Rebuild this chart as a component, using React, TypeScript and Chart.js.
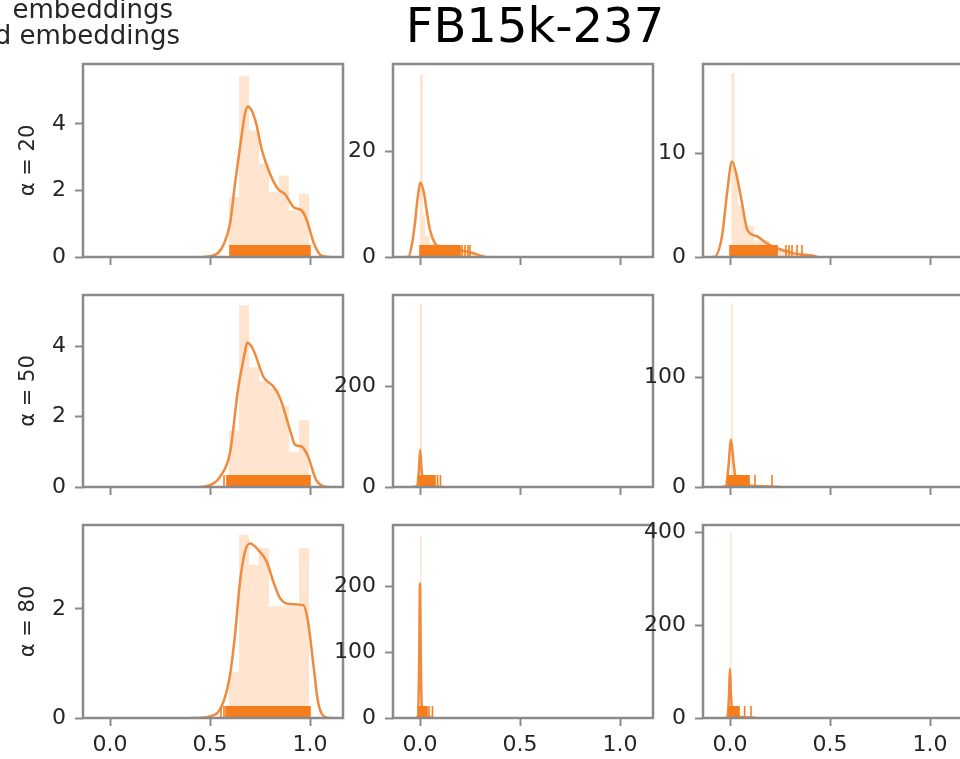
import React, { useEffect, useRef } from "react";
import { Chart, registerables } from "chart.js";

Chart.register(...registerables);

// ---------------- data ----------------
const figureTitle = "FB15k-237";
const legendLines = ["embeddings", "d embeddings"];
const rowLabels = ["α = 20", "α = 50", "α = 80"];
const xTickValues = [0, 0.5, 1.0];
const xTickLabels = ["0.0", "0.5", "1.0"];
const xMinMax = [-0.135, 1.165];

const yMaxRow1 = [5.8, 36.6, 18.6];
const yMaxRow2 = [5.45, 382, 175];
const yMaxRow3 = [3.54, 293, 416];
const yTicksRow1 = [[0, 2, 4], [0, 20], [0, 10]];
const yTicksRow2 = [[0, 2, 4], [0, 200], [0, 100]];
const yTicksRow3 = [[0, 2], [0, 100, 200], [0, 200, 400]];

// histogram bin edges & heights
const col1Edges = [0.595, 0.645, 0.695, 0.745, 0.795, 0.845, 0.895, 0.945, 0.995];
const r1c1Hist = [1.8, 5.45, 3.8, 2.8, 1.95, 2.45, 1.4, 1.9];
const r2c1Hist = [1.6, 5.16, 3.4, 3.0, 2.8, 2.3, 1.0, 1.9];
const r3c1Hist = [0.85, 3.36, 2.81, 3.12, 2.05, 2.05, 2.05, 3.12];
const r1c2Edges = [0, 0.0135, 0.027, 0.05, 0.1, 0.2, 0.25, 0.3];
const r1c2Hist = [34.6, 8, 4, 2.5, 1.6, 1.0, 0.5];
const r1c3Edges = [0.006, 0.022, 0.04, 0.07, 0.12, 0.2, 0.3, 0.42];
const r1c3Hist = [17.7, 8, 5, 3, 1.6, 0.8, 0.3];
const r2c2Edges = [0, 0.01, 0.05, 0.1];
const r2c2Hist = [364, 10, 2];
const r2c3Edges = [0.004, 0.014, 0.05, 0.12, 0.24];
const r2c3Hist = [167, 8, 3, 1];
const r3c2Edges = [0, 0.008, 0.06];
const r3c2Hist = [278, 5];
const r3c3Edges = [0, 0.008, 0.05, 0.12];
const r3c3Hist = [400, 8, 2];

// KDE curves
const r1c1KdeX = [0.46, 0.5, 0.54, 0.57, 0.6, 0.625, 0.65, 0.675, 0.69, 0.725, 0.76, 0.8, 0.84, 0.875, 0.92, 0.96, 0.985, 1.02, 1.06, 1.1];
const r1c1KdeY = [0, 0.02, 0.12, 0.4, 1.0, 2.2, 3.3, 4.3, 4.52, 4.14, 3.2, 2.5, 2.04, 1.89, 1.49, 1.39, 1.09, 0.4, 0.03, 0];
const r2c1KdeX = [0.45, 0.5, 0.55, 0.6, 0.64, 0.675, 0.686, 0.717, 0.767, 0.817, 0.85, 0.9, 0.925, 0.958, 0.99, 1.03, 1.075, 1.1];
const r2c1KdeY = [0, 0.05, 0.29, 0.97, 2.76, 3.84, 4.1, 3.89, 3.13, 2.85, 2.53, 1.62, 1.2, 1.15, 0.87, 0.21, 0.01, 0];
const r3c1KdeX = [0.4, 0.45, 0.5, 0.558, 0.6, 0.625, 0.65, 0.675, 0.7, 0.742, 0.783, 0.817, 0.85, 0.9, 0.967, 0.99, 1.017, 1.04, 1.08, 1.1];
const r3c1KdeY = [0, 0.005, 0.03, 0.21, 0.79, 1.52, 2.5, 3.05, 3.2, 3.08, 2.87, 2.5, 2.2, 2.09, 2.07, 1.77, 0.98, 0.3, 0.01, 0];
const r1c2KdeX = [-0.07, -0.058, -0.04, -0.025, -0.013, 0.003, 0.02, 0.033, 0.05, 0.075, 0.1, 0.133, 0.2, 0.267, 0.308, 0.33];
const r1c2KdeY = [0, 0, 2.5, 6.5, 10.8, 14.1, 12.1, 8.9, 5.1, 2.6, 1.9, 1.65, 1.3, 0.7, 0.2, 0];
const r1c3KdeX = [-0.09, -0.08, -0.04, -0.015, 0.01, 0.035, 0.06, 0.087, 0.135, 0.185, 0.235, 0.32, 0.42, 0.44];
const r1c3KdeY = [0, 0, 2, 6.1, 9.2, 7.7, 5.2, 2.6, 2.0, 1.3, 0.84, 0.35, 0.1, 0];
const r2c2KdeX = [-0.04, -0.015, -0.006, 0.001, 0.008, 0.016, 0.03, 0.06, 0.1, 0.12];
const r2c2KdeY = [0, 2, 30, 74, 35, 8, 2, 0.8, 0.2, 0];
const r2c3KdeX = [-0.04, -0.02, -0.008, 0.005, 0.018, 0.03, 0.05, 0.1, 0.2, 0.25];
const r2c3KdeY = [0, 1, 18, 43, 22, 6, 2.5, 1.2, 0.4, 0];
const r3c2KdeX = [-0.02, -0.01, -0.004, 0.0, 0.004, 0.01, 0.02, 0.05, 0.07];
const r3c2KdeY = [0, 3, 90, 204, 90, 12, 4, 1, 0];
const r3c3KdeX = [-0.025, -0.012, -0.005, 0.0, 0.005, 0.012, 0.025, 0.06, 0.12, 0.14];
const r3c3KdeY = [0, 3, 50, 106, 50, 12, 5, 2, 0.5, 0];

// rug: dense bands [from, to] and isolated ticks
const r1c1RugBands = [[0.6, 1.0]];
const r1c1RugTicks: number[] = [];
const r2c1RugBands = [[0.585, 1.0]];
const r2c1RugTicks = [0.57];
const r3c1RugBands = [[0.58, 1.0]];
const r3c1RugTicks = [0.555, 0.57];
const r1c2RugBands = [[0, 0.2]];
const r1c2RugTicks = [0.21, 0.225, 0.24, 0.25];
const r1c3RugBands = [[0, 0.235]];
const r1c3RugTicks = [0.28, 0.295, 0.31, 0.335, 0.36];
const r2c2RugBands = [[-0.005, 0.075]];
const r2c2RugTicks = [0.088, 0.102];
const r2c3RugBands = [[-0.01, 0.095]];
const r2c3RugTicks = [0.125, 0.21];
const r3c2RugBands = [[-0.005, 0.035]];
const r3c2RugTicks = [0.045, 0.062];
const r3c3RugBands = [[-0.005, 0.045]];
const r3c3RugTicks = [0.073, 0.105];

// ---------------- layout / style ----------------
const CANVAS_W = 980;
const CANVAS_H = 759;
const colLefts = [83, 393, 703];
const panelW = 260;
const rowTops = [64, 295, 525];
const rowBottoms = [257, 487, 718];
const XH = 40;
const FONT = '"DejaVu Sans", "Liberation Sans", sans-serif';
const TEXT = "#262626";
const SPINE = "#8a8a8a";
const KDE_COLOR = "#f08a3c";
const RUG_COLOR = "#f57d1c";
const HIST_FILL = "rgba(255,127,14,0.2)";
const RUG_H = 12;

type Panel = {
  row: number; col: number; edges: number[]; hist: number[];
  kdeX: number[]; kdeY: number[]; rugBands: number[][]; rugTicks: number[];
  yMax: number; yTicks: number[];
};

const yMaxes = [yMaxRow1, yMaxRow2, yMaxRow3];
const yTickSets = [yTicksRow1, yTicksRow2, yTicksRow3];

const panels: Panel[] = [
  { row: 0, col: 0, edges: col1Edges, hist: r1c1Hist, kdeX: r1c1KdeX, kdeY: r1c1KdeY, rugBands: r1c1RugBands, rugTicks: r1c1RugTicks, yMax: 0, yTicks: [] },
  { row: 0, col: 1, edges: r1c2Edges, hist: r1c2Hist, kdeX: r1c2KdeX, kdeY: r1c2KdeY, rugBands: r1c2RugBands, rugTicks: r1c2RugTicks, yMax: 0, yTicks: [] },
  { row: 0, col: 2, edges: r1c3Edges, hist: r1c3Hist, kdeX: r1c3KdeX, kdeY: r1c3KdeY, rugBands: r1c3RugBands, rugTicks: r1c3RugTicks, yMax: 0, yTicks: [] },
  { row: 1, col: 0, edges: col1Edges, hist: r2c1Hist, kdeX: r2c1KdeX, kdeY: r2c1KdeY, rugBands: r2c1RugBands, rugTicks: r2c1RugTicks, yMax: 0, yTicks: [] },
  { row: 1, col: 1, edges: r2c2Edges, hist: r2c2Hist, kdeX: r2c2KdeX, kdeY: r2c2KdeY, rugBands: r2c2RugBands, rugTicks: r2c2RugTicks, yMax: 0, yTicks: [] },
  { row: 1, col: 2, edges: r2c3Edges, hist: r2c3Hist, kdeX: r2c3KdeX, kdeY: r2c3KdeY, rugBands: r2c3RugBands, rugTicks: r2c3RugTicks, yMax: 0, yTicks: [] },
  { row: 2, col: 0, edges: col1Edges, hist: r3c1Hist, kdeX: r3c1KdeX, kdeY: r3c1KdeY, rugBands: r3c1RugBands, rugTicks: r3c1RugTicks, yMax: 0, yTicks: [] },
  { row: 2, col: 1, edges: r3c2Edges, hist: r3c2Hist, kdeX: r3c2KdeX, kdeY: r3c2KdeY, rugBands: r3c2RugBands, rugTicks: r3c2RugTicks, yMax: 0, yTicks: [] },
  { row: 2, col: 2, edges: r3c3Edges, hist: r3c3Hist, kdeX: r3c3KdeX, kdeY: r3c3KdeY, rugBands: r3c3RugBands, rugTicks: r3c3RugTicks, yMax: 0, yTicks: [] },
].map((p) => ({ ...p, yMax: yMaxes[p.row][p.col], yTicks: yTickSets[p.row][p.col] }));

function makeRugPlugin(bands: number[][], ticks: number[]) {
  return {
    id: "rug",
    afterDatasetsDraw(chart: any) {
      const { ctx, chartArea, scales } = chart;
      const xs = scales.x;
      ctx.save();
      ctx.beginPath();
      ctx.rect(chartArea.left, chartArea.top, chartArea.right - chartArea.left, chartArea.bottom - chartArea.top);
      ctx.clip();
      ctx.fillStyle = RUG_COLOR;
      ctx.strokeStyle = RUG_COLOR;
      ctx.lineWidth = 1.6;
      const y1 = chartArea.bottom;
      const y0 = y1 - RUG_H;
      bands.forEach(([a, b]) => {
        const pa = xs.getPixelForValue(a);
        const pb = xs.getPixelForValue(b);
        ctx.fillRect(pa - 0.8, y0, pb - pa + 1.6, RUG_H);
      });
      ticks.forEach((t) => {
        const p = xs.getPixelForValue(t);
        ctx.beginPath();
        ctx.moveTo(p, y0);
        ctx.lineTo(p, y1);
        ctx.stroke();
      });
      ctx.restore();
    },
  };
}

const framePlugin = {
  id: "frame",
  afterDraw(chart: any) {
    const { ctx, chartArea } = chart;
    ctx.save();
    ctx.strokeStyle = SPINE;
    ctx.lineWidth = 2.5;
    ctx.strokeRect(chartArea.left, chartArea.top, chartArea.right - chartArea.left, chartArea.bottom - chartArea.top);
    ctx.restore();
  },
};

const figureTextPlugin = {
  id: "figureText",
  afterDraw(chart: any) {
    const { ctx } = chart;
    ctx.save();
    ctx.fillStyle = "#000000";
    ctx.font = `48px ${FONT}`;
    ctx.textAlign = "center";
    ctx.textBaseline = "alphabetic";
    ctx.fillText(figureTitle, 535, 42);
    ctx.fillStyle = TEXT;
    ctx.font = `26px ${FONT}`;
    ctx.textAlign = "right";
    ctx.fillText(legendLines[0], 173, 18);
    ctx.fillText(legendLines[1], 180, 43.5);
    ctx.restore();
  },
};

function buildConfig(p: Panel, withText: boolean): any {
  const left = colLefts[p.col];
  const right = left + panelW;
  const top = rowTops[p.row];
  const bottom = rowBottoms[p.row];
  const yw = p.col === 0 ? 83 : 60;
  const histPts = p.edges.map((e, i) => ({ x: e, y: i < p.hist.length ? p.hist[i] : 0 }));
  const kdePts = p.kdeX.map((x, i) => ({ x, y: p.kdeY[i] }));
  const tickFont = { family: FONT, size: 22 };
  const plugins: any[] = [makeRugPlugin(p.rugBands, p.rugTicks), framePlugin];
  if (withText) plugins.push(figureTextPlugin);
  return {
    type: "line",
    data: {
      datasets: [
        {
          label: "hist",
          data: histPts,
          stepped: true,
          fill: "origin",
          backgroundColor: HIST_FILL,
          borderColor: "rgba(0,0,0,0)",
          borderWidth: 1,
          pointRadius: 0,
          order: 3,
        },
        {
          label: "kde",
          data: kdePts,
          borderColor: KDE_COLOR,
          borderWidth: 2.5,
          pointRadius: 0,
          fill: false,
          cubicInterpolationMode: "monotone",
          order: 2,
        },
      ],
    },
    options: {
      responsive: false,
      animation: false,
      events: [],
      layout: {
        padding: { left: left - yw, top, right: CANVAS_W - right, bottom: CANVAS_H - bottom - XH },
      },
      plugins: { legend: { display: false }, tooltip: { enabled: false }, title: { display: false } },
      scales: {
        x: {
          type: "linear",
          min: xMinMax[0],
          max: xMinMax[1],
          afterBuildTicks: (s: any) => { s.ticks = xTickValues.map((v) => ({ value: v })); },
          afterFit: (s: any) => { s.height = XH; },
          border: { display: false },
          grid: { display: true, drawOnChartArea: false, drawTicks: true, tickLength: 8, tickWidth: 2, tickColor: SPINE, color: SPINE },
          ticks: {
            display: p.row === 2,
            callback: (_v: any, i: number) => xTickLabels[i],
            font: tickFont,
            color: TEXT,
            padding: 6,
            maxRotation: 0,
            autoSkip: false,
          },
        },
        y: {
          type: "linear",
          min: 0,
          max: p.yMax,
          afterBuildTicks: (s: any) => { s.ticks = p.yTicks.map((v) => ({ value: v })); },
          afterFit: (s: any) => { s.width = yw; },
          border: { display: false },
          grid: { display: true, drawOnChartArea: false, drawTicks: true, tickLength: 8, tickWidth: 2, tickColor: SPINE, color: SPINE },
          ticks: {
            callback: (v: any) => String(v),
            font: tickFont,
            color: TEXT,
            padding: 9,
            autoSkip: false,
          },
          title: {
            display: p.col === 0,
            text: rowLabels[p.row],
            font: { family: FONT, size: 21 },
            color: TEXT,
            padding: { top: 16, bottom: 0 },
          },
        },
      },
    },
    plugins,
  };
}

export default function App() {
  const refs = useRef<(HTMLCanvasElement | null)[]>([]);
  useEffect(() => {
    const charts = panels.map((p, i) => {
      const canvas = refs.current[i]!;
      return new Chart(canvas, buildConfig(p, i === 0));
    });
    return () => charts.forEach((c) => c.destroy());
  }, []);
  return (
    <div style={{ position: "absolute", left: 0, top: 0, width: 960, height: 759, overflow: "hidden", background: "#fff" }}>
      {panels.map((_, i) => (
        <canvas
          key={i}
          ref={(el) => { refs.current[i] = el; }}
          width={CANVAS_W}
          height={CANVAS_H}
          style={{ position: "absolute", left: 0, top: 0, width: CANVAS_W, height: CANVAS_H }}
        />
      ))}
    </div>
  );
}
